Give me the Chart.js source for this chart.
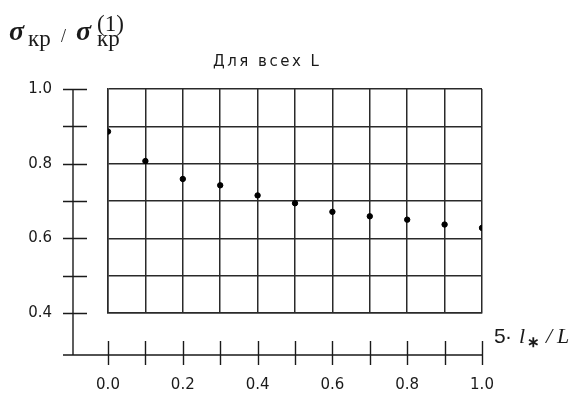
<!DOCTYPE html>
<html>
<head>
<meta charset="utf-8">
<script src="https://cdn.jsdelivr.net/npm/chart.js@4"></script>
<style>
  html, body { margin: 0; padding: 0; background: #fff; }
  #wrap { position: relative; width: 580px; height: 399px; }
</style>
</head>
<body>
<div id="wrap"><canvas id="chart" width="580" height="399"></canvas></div>
<script>
// Data
const xValues = [0.0, 0.1, 0.2, 0.3, 0.4, 0.5, 0.6, 0.7, 0.8, 0.9, 1.0];
const ratioValues = [0.886, 0.807, 0.759, 0.742, 0.715, 0.694, 0.671, 0.659, 0.650, 0.637, 0.628];
const xTickLabels = ['0.0', '0.2', '0.4', '0.6', '0.8', '1.0'];
const yTickLabels = ['0.4', '0.6', '0.8', '1.0'];
const chartTitle = 'Для всех L';

const INK = '#1a1a1a';
const GRID = '#2a2a2a';
const TICK_FONT = '15px "DejaVu Sans", sans-serif';

/**
 * Separate offset axes + titles drawn beside the grid box
 */
const offsetAxes = {
    id: 'offsetAxes',
    afterDraw(chart) {
        const { ctx, chartArea, scales } = chart;
        const xs = scales.x, ys = scales.y;
        const axisX = chartArea.left - 35;
        const axisY = chartArea.bottom + 42;

        ctx.save();
        ctx.strokeStyle = INK;
        ctx.lineWidth = 1.4;

        // y axis line + ticks
        ctx.beginPath();
        ctx.moveTo(axisX, ys.getPixelForValue(1.0));
        ctx.lineTo(axisX, axisY);
        for (let v = 4; v <= 10; v++) {
            const py = Math.round(ys.getPixelForValue(v / 10)) + 0.5;
            ctx.moveTo(axisX - 10, py);
            ctx.lineTo(axisX + 14, py);
        }
        // x axis line + ticks
        ctx.moveTo(axisX - 10, axisY);
        ctx.lineTo(chartArea.right, axisY);
        xValues.forEach(v => {
            const px = Math.round(xs.getPixelForValue(v)) + 0.5;
            ctx.moveTo(px, axisY - 14);
            ctx.lineTo(px, axisY + 10);
        });
        ctx.stroke();

        // x tick labels under the offset axis
        ctx.fillStyle = INK;
        ctx.font = TICK_FONT;
        ctx.textAlign = 'center';
        ctx.textBaseline = 'middle';
        xTickLabels.forEach(s => {
            ctx.fillText(s, xs.getPixelForValue(parseFloat(s)), axisY + 30);
        });

        // chart title
        ctx.font = '15px "DejaVu Sans", sans-serif';
        ctx.textAlign = 'left';
        ctx.textBaseline = 'alphabetic';
        if ('letterSpacing' in ctx) ctx.letterSpacing = '2.5px';
        ctx.fillText(chartTitle, 213, 66);
        if ('letterSpacing' in ctx) ctx.letterSpacing = '0px';

        // y axis title: sigma_kp / sigma_kp^(1)
        ctx.font = 'bold italic 28px "Liberation Serif", serif';
        ctx.fillText('σ', 9, 40);
        ctx.fillText('σ', 76, 40);
        ctx.font = '23px "Liberation Serif", serif';
        ctx.fillText('кр', 28, 46);
        ctx.fillText('кр', 97, 46);
        ctx.fillText('(1)', 97, 31);
        ctx.font = '18px "Liberation Serif", serif';
        ctx.fillText('/', 61, 42);

        // x axis title: 5·l*/L
        ctx.font = '21px "Liberation Sans", sans-serif';
        ctx.fillText('5', 494, 343);
        ctx.fillText('·', 505, 343);
        ctx.font = 'italic 22px "Liberation Serif", serif';
        ctx.fillText('l', 519, 343);
        ctx.font = 'bold 15px "Liberation Serif", serif';
        ctx.fillText('∗', 527, 347);
        ctx.font = 'italic 22px "Liberation Serif", serif';
        ctx.fillText('/', 546, 343);
        ctx.fillText('L', 557, 343);
        ctx.restore();
    }
};

const ctx = document.getElementById('chart').getContext('2d');
new Chart(ctx, {
    type: 'scatter',
    data: {
        datasets: [{
            data: xValues.map((x, i) => ({ x: x, y: ratioValues[i] })),
            backgroundColor: '#000',
            borderColor: '#000',
            pointRadius: 2.7,
            pointHoverRadius: 2.7
        }]
    },
    options: {
        responsive: false,
        animation: false,
        devicePixelRatio: 1,
        layout: {
            padding: { left: 0, top: 89, right: 98, bottom: 0 }
        },
        plugins: {
            legend: { display: false },
            tooltip: { enabled: false }
        },
        scales: {
            x: {
                type: 'linear',
                min: 0,
                max: 1,
                afterFit: s => { s.height = 86; },
                border: { display: true, color: GRID, width: 1.5 },
                grid: { color: GRID, lineWidth: 1.5, drawTicks: false },
                ticks: {
                    stepSize: 0.1,
                    autoSkip: false,
                    display: false
                }
            },
            y: {
                type: 'linear',
                min: 0.4,
                max: 1.0,
                afterFit: s => { s.width = 108; },
                border: { display: true, color: GRID, width: 1.5 },
                grid: { color: GRID, lineWidth: 1.5, drawTicks: false },
                ticks: {
                    stepSize: 0.1,
                    autoSkip: false,
                    padding: 56,
                    color: INK,
                    font: { family: '"DejaVu Sans", sans-serif', size: 15 },
                    callback: v => {
                        const s = v.toFixed(1);
                        return yTickLabels.includes(s) ? s : '';
                    }
                }
            }
        }
    },
    plugins: [offsetAxes]
});
</script>
</body>
</html>
